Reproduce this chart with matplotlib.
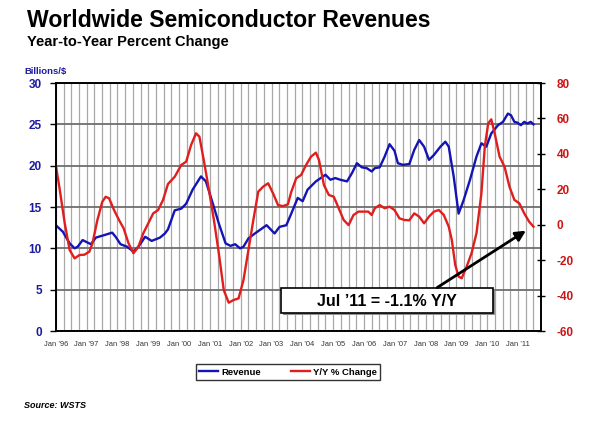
import matplotlib.pyplot as plt
from matplotlib.patches import Rectangle

plt.rcParams['font.family'] = ['Liberation Sans', 'DejaVu Sans']
plt.rcParams['axes.unicode_minus'] = False

# revenue, billions of dollars (3-month average)
rev_t = [1996.00, 1996.23, 1996.45, 1996.61, 1996.71, 1996.87, 1997.03, 1997.14, 1997.30,
         1997.57, 1997.83, 1997.94, 1998.10, 1998.31, 1998.52, 1998.68, 1998.90, 1999.11,
         1999.38, 1999.54, 1999.64, 1999.86, 2000.07, 2000.23, 2000.44, 2000.71, 2000.87,
         2001.08, 2001.29, 2001.51, 2001.67, 2001.82, 2001.98, 2002.09, 2002.25, 2002.46,
         2002.84, 2003.10, 2003.26, 2003.48, 2003.64, 2003.85, 2004.01, 2004.17, 2004.44,
         2004.75, 2004.91, 2005.07, 2005.23, 2005.45, 2005.61, 2005.77, 2005.93, 2006.09,
         2006.25, 2006.35, 2006.51, 2006.67, 2006.83, 2006.99, 2007.10, 2007.26, 2007.47,
         2007.63, 2007.79, 2007.95, 2008.11, 2008.27, 2008.48, 2008.64, 2008.75, 2008.91,
         2009.07, 2009.23, 2009.44, 2009.65, 2009.81, 2009.97, 2010.13, 2010.35, 2010.51,
         2010.67, 2010.77, 2010.88, 2010.98, 2011.09, 2011.20, 2011.30, 2011.41, 2011.50]
rev_val = [12.8, 12.0, 10.6, 10.0, 10.2, 11.0, 10.7, 10.5, 11.3,
           11.6, 11.9, 11.4, 10.5, 10.2, 9.6, 10.2, 11.4, 10.9,
           11.3, 11.8, 12.3, 14.6, 14.8, 15.4, 17.1, 18.7, 18.1,
           15.6, 13.0, 10.6, 10.3, 10.5, 10.0, 10.2, 11.2, 11.8,
           12.8, 11.8, 12.6, 12.8, 14.2, 16.1, 15.7, 17.1, 18.1,
           18.9, 18.3, 18.5, 18.3, 18.1, 19.1, 20.3, 19.8, 19.7,
           19.3, 19.7, 19.8, 21.1, 22.6, 21.8, 20.3, 20.1, 20.2,
           21.9, 23.1, 22.3, 20.7, 21.3, 22.3, 22.9, 22.3, 18.7,
           14.2, 15.8, 18.3, 21.1, 22.7, 22.3, 23.9, 24.9, 25.3,
           26.3, 26.1, 25.3, 25.2, 24.9, 25.3, 25.1, 25.3, 25.0]

# year-to-year percent change
yoy_t = [1996.00, 1996.13, 1996.29, 1996.45, 1996.61, 1996.77, 1996.93, 1997.09, 1997.19,
         1997.35, 1997.51, 1997.62, 1997.73, 1997.89, 1998.05, 1998.20, 1998.36, 1998.52,
         1998.68, 1998.84, 1999.00, 1999.16, 1999.32, 1999.48, 1999.64, 1999.86, 2000.07,
         2000.23, 2000.39, 2000.55, 2000.66, 2000.82, 2000.97, 2001.13, 2001.29, 2001.45,
         2001.61, 2001.77, 2001.93, 2002.09, 2002.25, 2002.41, 2002.57, 2002.73, 2002.89,
         2003.05, 2003.21, 2003.37, 2003.53, 2003.64, 2003.80, 2003.96, 2004.12, 2004.28,
         2004.44, 2004.54, 2004.70, 2004.86, 2005.02, 2005.18, 2005.34, 2005.50, 2005.66,
         2005.82, 2005.98, 2006.14, 2006.25, 2006.35, 2006.51, 2006.67, 2006.83, 2006.99,
         2007.15, 2007.31, 2007.47, 2007.63, 2007.79, 2007.95, 2008.11, 2008.27, 2008.43,
         2008.59, 2008.75, 2008.85, 2008.96, 2009.07, 2009.17, 2009.33, 2009.49, 2009.65,
         2009.81, 2009.92, 2010.03, 2010.13, 2010.24, 2010.40, 2010.56, 2010.72, 2010.88,
         2011.04, 2011.20, 2011.36, 2011.50]
yoy_val = [33.7, 19.6, 0.8, -14.3, -19.0, -17.1, -16.9, -15.2, -10.5,
           2.7, 13.0, 15.8, 14.9, 8.3, 2.7, -2.0, -10.5, -16.1,
           -12.4, -4.8, 0.8, 6.4, 8.3, 14.0, 23.0, 27.1, 33.7,
           35.6, 45.0, 51.6, 49.7, 34.7, 19.6, 2.7, -16.1, -36.9,
           -44.0, -42.5, -41.6, -31.2, -14.3, 2.7, 18.7, 21.5, 23.4,
           17.7, 11.1, 10.5, 11.5, 18.5, 26.2, 28.1, 33.7, 38.4,
           40.7, 36.5, 22.4, 16.8, 15.8, 9.3, 2.7, -0.2, 5.5,
           7.4, 7.4, 7.4, 5.5, 9.3, 11.1, 9.3, 10.2, 8.3,
           3.6, 2.7, 2.5, 6.4, 4.6, 0.8, 4.6, 7.4, 8.3,
           5.5, -1.1, -8.6, -22.7, -29.3, -30.2, -23.7, -16.1, -4.8,
           17.7, 44.1, 57.2, 59.5, 51.6, 38.4, 32.8, 21.5, 14.0,
           12.1, 6.4, 1.7, -1.1]

years = list(range(1996, 2012))
year_labels = ["Jan \u2019%02d" % (y % 100) for y in years]

blue = "#1414b4"
red = "#e01e1e"
lblue = "#1c1ca0"
lred = "#cc1414"

fig = plt.figure(figsize=(6, 4.22), dpi=100)
ax = fig.add_axes([0.093, 0.2156, 0.809, 0.5877])
ax2 = ax.twinx()

# grid: quarterly verticals, dark horizontals at left ticks
ax.set_xlim(1996, 2011.5)
ax.set_ylim(0, 30)
ax.set_yticks(range(0, 31, 5))
ax.set_xticks(years)
ax.set_xticklabels(year_labels, fontsize=5.4, color="#333333")
ax.set_xticks([y + q / 4 for y in range(1996, 2012) for q in range(4)], minor=True)
ax.grid(True, which="minor", axis="x", color="#a8a8a8", lw=0.9)
ax.grid(True, which="major", axis="x", color="#a8a8a8", lw=0.9)
ax.grid(True, which="major", axis="y", color="#6e6e6e", lw=1.3)
ax.set_axisbelow(True)
ax.tick_params(axis="x", which="both", length=0, pad=7)
ax.tick_params(axis="y", length=4, width=1, pad=6, labelsize=8.5, labelcolor=lblue)
for t in ax.get_yticklabels():
    t.set_fontweight("bold")

ax.plot(rev_t, rev_val, color=blue, lw=1.7, label="Revenue")
ax2.plot(yoy_t, yoy_val, color=red, lw=1.7, label="Y/Y % Change")

ax2.set_ylim(-60, 80)
ax2.set_yticks(range(-60, 81, 20))
ax2.tick_params(axis="y", length=6, width=1, direction="inout", pad=8,
                labelsize=8.5, labelcolor=lred)
for t in ax2.get_yticklabels():
    t.set_fontweight("bold")

for a in (ax, ax2):
    for s in a.spines.values():
        s.set_color("black")
        s.set_linewidth(1.2)

# annotation box with shadow
ax2.add_patch(Rectangle((0.468, 0.064), 0.437, 0.101, transform=ax2.transAxes,
                        facecolor="#909090", edgecolor="none", zorder=4, clip_on=False))
ax2.add_patch(Rectangle((0.464, 0.0726), 0.437, 0.101, transform=ax2.transAxes,
                        facecolor="white", edgecolor="black", lw=1.2, zorder=5, clip_on=False))
ax2.text(0.6825, 0.121, "Jul \u201911 = -1.1% Y/Y", transform=ax2.transAxes,
         ha="center", va="center", fontsize=11.5, fontweight="bold", zorder=6)
ax2.annotate("", xy=(2011.33, -2.5), xytext=(2008.3, -36.3),
             arrowprops=dict(arrowstyle="-|>,head_length=0.6,head_width=0.3",
                             color="black", lw=2), zorder=6)

# legend
h1, l1 = ax.get_legend_handles_labels()
h2, l2 = ax2.get_legend_handles_labels()
leg = fig.legend(h1 + h2, l1 + l2, loc="center", bbox_to_anchor=(0.48, 0.118),
                 ncol=2, fontsize=6.8, frameon=True, fancybox=False,
                 edgecolor="black", handlelength=2.0, handletextpad=0.3,
                 columnspacing=3.2, borderpad=0.4, borderaxespad=0)
leg.get_frame().set_linewidth(1.0)
for t in leg.get_texts():
    t.set_fontweight("bold")

fig.text(0.045, 0.936, "Worldwide Semiconductor Revenues", fontsize=16.6,
         fontweight="bold", va="baseline")
fig.text(0.045, 0.891, "Year-to-Year Percent Change", fontsize=10.5,
         fontweight="bold", va="baseline")
fig.text(0.040, 0.825, "Billions/$", fontsize=6.8, fontweight="bold",
         color=lblue, va="baseline")
fig.text(0.040, 0.032, "Source: WSTS", fontsize=6.5, fontweight="bold",
         fontstyle="italic", va="baseline")

fig.savefig("out.png", dpi=100)
